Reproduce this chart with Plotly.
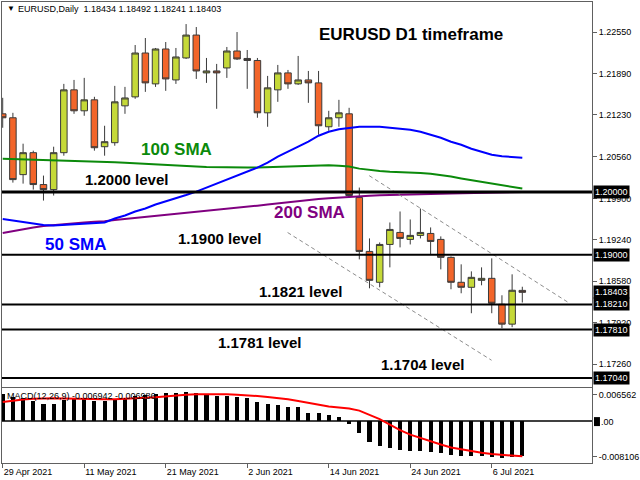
import plotly.graph_objects as go
import pandas as pd

# ---------------- data ----------------
dates = pd.bdate_range("2021-04-29", "2021-07-09")   # 52 daily bars
symbol = "EURUSD,Daily"

opens = [1.21247, 1.21184, 1.20278, 1.20628, 1.20120, 1.20040, 1.20628, 1.21629, 1.21295, 1.21470,
         1.20723, 1.20787, 1.21374, 1.21517, 1.22216, 1.21724, 1.22280, 1.21787, 1.22137, 1.22502,
         1.21899, 1.21930, 1.21978, 1.22248, 1.22129, 1.22097, 1.21263, 1.21629, 1.21899, 1.21724,
         1.21787, 1.21740, 1.21041, 1.21184, 1.21247, 1.19913, 1.19055, 1.18563, 1.19166, 1.19357,
         1.19246, 1.19310, 1.19341, 1.19246, 1.18960, 1.18563, 1.18483, 1.18594, 1.18626, 1.18213,
         1.17896, 1.18434]
highs = [1.21502, 1.21263, 1.20771, 1.20660, 1.20263, 1.20723, 1.21724, 1.21787, 1.21820, 1.21518,
         1.21057, 1.21692, 1.21676, 1.22343, 1.22455, 1.22296, 1.22391, 1.22296, 1.22677, 1.22630,
         1.22137, 1.22042, 1.22312, 1.22550, 1.22264, 1.22137, 1.21851, 1.22026, 1.21946, 1.22169,
         1.21930, 1.21930, 1.21295, 1.21470, 1.21343, 1.20072, 1.19262, 1.19198, 1.19516, 1.19691,
         1.19564, 1.19738, 1.19437, 1.19294, 1.18976, 1.18849, 1.18737, 1.18801, 1.18944, 1.18356,
         1.18690, 1.18492]
lows = [1.21025, 1.20151, 1.20135, 1.20040, 1.19865, 1.19945, 1.20580, 1.21247, 1.21216, 1.20660,
        1.20580, 1.20739, 1.21247, 1.21486, 1.21597, 1.21676, 1.21613, 1.21724, 1.22121, 1.21803,
        1.21740, 1.21327, 1.21819, 1.22105, 1.21645, 1.21184, 1.21041, 1.21438, 1.21645, 1.21708,
        1.21422, 1.20914, 1.20977, 1.21041, 1.19913, 1.18928, 1.18467, 1.18483, 1.18801, 1.19119,
        1.19166, 1.19262, 1.19007, 1.18769, 1.18452, 1.18388, 1.18070, 1.18515, 1.18070, 1.17832,
        1.17848, 1.18241]
closes = [1.21184, 1.20199, 1.20628, 1.20120, 1.20040, 1.20628, 1.21629, 1.21295, 1.21470, 1.20707,
          1.20803, 1.21438, 1.21500, 1.22216, 1.21740, 1.22280, 1.21803, 1.22153, 1.22502, 1.21930,
          1.21930, 1.21899, 1.22248, 1.22121, 1.22097, 1.21263, 1.21661, 1.21899, 1.21724, 1.21787,
          1.21740, 1.21057, 1.21184, 1.21263, 1.19945, 1.19055, 1.18594, 1.19166, 1.19405, 1.19262,
          1.19310, 1.19357, 1.19214, 1.18960, 1.18563, 1.18483, 1.18642, 1.18626, 1.18229, 1.17896,
          1.18436, 1.18403]

sma50 = [1.19571, 1.19548, 1.19524, 1.19500, 1.19476, 1.19468, 1.19476, 1.19484, 1.19492, 1.19500,
         1.19516, 1.19579, 1.19627, 1.19691, 1.19738, 1.19802, 1.19849, 1.19897, 1.19953, 1.20008,
         1.20072, 1.20135, 1.20199, 1.20262, 1.20326, 1.20390, 1.20469, 1.20564, 1.20644, 1.20723,
         1.20803, 1.20898, 1.20961, 1.21001, 1.21025, 1.21041, 1.21041, 1.21041, 1.21025, 1.21009,
         1.20993, 1.20961, 1.20914, 1.20866, 1.20803, 1.20755, 1.20691, 1.20644, 1.20596, 1.20572,
         1.20556, 1.20548]
sma100 = [1.20533, 1.20528, 1.20523, 1.20520, 1.20517, 1.20513, 1.20507, 1.20501, 1.20494, 1.20488,
          1.20482, 1.20475, 1.20466, 1.20456, 1.20450, 1.20444, 1.20434, 1.20425, 1.20415, 1.20406,
          1.20399, 1.20394, 1.20390, 1.20390, 1.20390, 1.20393, 1.20399, 1.20406, 1.20414, 1.20421,
          1.20428, 1.20434, 1.20429, 1.20418, 1.20406, 1.20374, 1.20350, 1.20337, 1.20326, 1.20321,
          1.20315, 1.20306, 1.20291, 1.20271, 1.20247, 1.20218, 1.20191, 1.20167, 1.20143, 1.20115,
          1.20088, 1.20056]
sma200 = [1.19349, 1.19381, 1.19413, 1.19436, 1.19460, 1.19476, 1.19492, 1.19503, 1.19516, 1.19527,
          1.19535, 1.19555, 1.19571, 1.19587, 1.19603, 1.19619, 1.19633, 1.19648, 1.19662, 1.19678,
          1.19694, 1.19710, 1.19725, 1.19743, 1.19762, 1.19783, 1.19802, 1.19821, 1.19840, 1.19856,
          1.19872, 1.19888, 1.19900, 1.19913, 1.19924, 1.19934, 1.19942, 1.19948, 1.19954, 1.19961,
          1.19965, 1.19969, 1.19972, 1.19975, 1.19978, 1.19981, 1.19985, 1.19988, 1.19991, 1.19994,
          1.19997, 1.20000]

macd_main = [0.00537, 0.00484, 0.00464, 0.00404, 0.00339, 0.00339, 0.00418, 0.00452, 0.00452, 0.00404,
             0.00398, 0.00418, 0.00452, 0.00503, 0.00517, 0.00537, 0.00551, 0.00563, 0.00583, 0.00563,
             0.00517, 0.00498, 0.00498, 0.00484, 0.00464, 0.00373, 0.00333, 0.00319, 0.00285, 0.00274,
             0.00167, 0.00167, 0.00121, 0.00075, -0.00063, -0.00242, -0.00408, -0.00494, -0.00527, -0.00573,
             -0.00593, -0.00593, -0.00607, -0.00626, -0.00672, -0.00692, -0.00692, -0.00692, -0.00706, -0.00737,
             -0.00706, -0.006942]
macd_signal = [0.00379, 0.00408, 0.00432, 0.00446, 0.00454, 0.00458, 0.00452, 0.00444, 0.00438, 0.00434,
               0.00434, 0.00438, 0.00444, 0.00452, 0.00464, 0.00478, 0.00498, 0.00513, 0.00525, 0.00533,
               0.00537, 0.00537, 0.00533, 0.00525, 0.00517, 0.00501, 0.00482, 0.00462, 0.00434, 0.00402,
               0.00363, 0.00319, 0.00293, 0.00274, 0.00250, 0.00210, 0.00131, 0.00042, -0.00067, -0.00176,
               -0.00266, -0.00335, -0.00404, -0.00464, -0.00523, -0.00563, -0.00599, -0.00628, -0.00652, -0.00672,
               -0.00692, -0.006986]
macd_scale_labels = [0.006562, -0.008106]

levels = [1.2000, 1.1900, 1.1821, 1.1781, 1.1704]
price_ticks = [1.22550, 1.21890, 1.21230, 1.20560, 1.19900, 1.19240, 1.18580, 1.17920, 1.17260]
date_tick_idx = [0, 8, 16, 24, 32, 40, 48]

channel_upper_x = [35.97, 55.5]
channel_upper_y = [1.20262, 1.18243]
channel_lower_x = [27.96, 47.98]
channel_lower_y = [1.19356, 1.17321]

# ---------------- geometry ----------------
W, H = 640, 480
L, R, T, B = 1, 46, 1, 17
PW, PH = W - L - R, H - T - B
PB = H - B


def pxx(x):
    return (x - L) / PW


def pxy(y):
    return (PB - y) / PH


FONT = "Liberation Sans, Arial, sans-serif"
idx = list(range(len(dates)))

fig = go.Figure()

# moving averages
fig.add_trace(go.Scatter(x=idx, y=sma200, mode="lines", line=dict(color="#800080", width=2),
                         xaxis="x", yaxis="y", hoverinfo="skip"))
fig.add_trace(go.Scatter(x=idx, y=sma100, mode="lines", line=dict(color="#0B8A0B", width=2),
                         xaxis="x", yaxis="y", hoverinfo="skip"))
fig.add_trace(go.Scatter(x=idx, y=sma50, mode="lines", line=dict(color="#0000FF", width=2),
                         xaxis="x", yaxis="y", hoverinfo="skip"))

# candles
fig.add_trace(go.Candlestick(
    x=idx, open=opens, high=highs, low=lows, close=closes,
    increasing=dict(fillcolor="#C5D938", line=dict(color="#3a3a3a", width=1)),
    decreasing=dict(fillcolor="#F2652A", line=dict(color="#3a3a3a", width=1)),
    whiskerwidth=0, xaxis="x", yaxis="y", hoverinfo="skip"))

# channel lines
for cx, cy in [(channel_upper_x, channel_upper_y), (channel_lower_x, channel_lower_y)]:
    fig.add_trace(go.Scatter(x=cx, y=cy, mode="lines",
                             line=dict(color="#8c8c8c", width=1, dash="4px,3px"),
                             xaxis="x", yaxis="y", hoverinfo="skip"))

# MACD
fig.add_trace(go.Bar(x=idx, y=macd_main, width=0.4, marker=dict(color="#000000", line=dict(width=0)),
                     xaxis="x2", yaxis="y2", hoverinfo="skip"))
fig.add_trace(go.Scatter(x=idx, y=macd_signal, mode="lines", line=dict(color="#FF0000", width=2),
                         xaxis="x2", yaxis="y2", hoverinfo="skip"))

# horizontal levels
shapes = []
for i, lv in enumerate(levels):
    shapes.append(dict(type="line", xref="paper", x0=0, x1=1, yref="y", y0=lv, y1=lv,
                       line=dict(color="#000000", width=3 if i == 0 else 2), layer="above"))
# small black box on MACD zero label
shapes.append(dict(type="rect", xref="paper", yref="paper",
                   x0=pxx(596), x1=pxx(602), y0=pxy(426), y1=pxy(417),
                   fillcolor="#000000", line=dict(width=0), layer="above"))

xr = [-0.07, 57.84]
ymain = [1.16900, 1.230286]
ymacd = [-0.008305, macd_scale_labels[0]]

annotations = []


def ann(text, x, y, size, color, bold=True, xanchor="left", bg=None, pad=1):
    annotations.append(dict(
        text=("<b>%s</b>" % text) if bold else text, xref="paper", yref="paper",
        x=pxx(x), y=pxy(y), xanchor=xanchor, yanchor="middle", showarrow=False,
        font=dict(family=FONT, size=size, color=color),
        bgcolor=bg, borderpad=pad))


# header
ann("\u25BC", 4, 8, 8, "#000000", bold=False)
ann("%s  %.5f %.5f %.5f %.5f" % (symbol, opens[-1], highs[-1], lows[-1], closes[-1]),
    15, 8.5, 9, "#000000", bold=False)
ann("MACD(12,26,9) %.6f %.6f" % (macd_main[-1], macd_signal[-1]), 4, 396, 9, "#000000", bold=False)

# chart labels
ann("EURUSD D1 timeframe", 318, 34, 17, "#000000")
ann("100 SMA", 139, 149, 17, "#0B8A0B")
ann("200 SMA", 272, 212, 17, "#800080")
ann("50 SMA", 42, 244, 17, "#0000FF")
ann("%.4f level" % levels[0], 82, 179, 15, "#000000")
ann("%.4f level" % levels[1], 176, 238, 15, "#000000")
ann("%.4f level" % levels[2], 257, 291, 15, "#000000")
ann("%.4f level" % levels[3], 216, 342, 15, "#000000")
ann("%.4f level" % levels[4], 380, 364, 15, "#000000")

# right axis black boxes
for v in levels + [closes[-1]]:
    annotations.append(dict(
        text="%.5f" % v, xref="paper", yref="y", x=pxx(595), y=v, xanchor="left", yanchor="middle",
        showarrow=False, font=dict(family=FONT, size=9, color="#FFFFFF"), bgcolor="#000000", borderpad=1))
# MACD zero label
ann(".00", 602, 421.5, 9, "#000000", bold=False, pad=0)

date_text = ["%d %s" % (dates[i].day, dates[i].strftime("%b %Y")) for i in date_tick_idx]

axis_common = dict(showgrid=False, zeroline=False, showline=True, mirror=True,
                   linecolor="#606060", linewidth=1)

fig.update_layout(
    width=W, height=H, margin=dict(l=L, r=R, t=T, b=B),
    paper_bgcolor="#FFFFFF", plot_bgcolor="#FFFFFF", showlegend=False,
    boxgap=0.2, boxgroupgap=0.2, bargap=0,
    font=dict(family=FONT, size=9, color="#000000"),
    xaxis=dict(domain=[0, 1], range=xr, anchor="y", showticklabels=False, ticks="",
               rangeslider=dict(visible=False), **axis_common),
    yaxis=dict(domain=[pxy(386.5), 1], range=ymain, anchor="x", side="right",
               tickvals=price_ticks, ticktext=["%.5f" % v for v in price_ticks],
               ticks="outside", ticklen=4, tickcolor="#606060",
               tickfont=dict(family=FONT, size=9, color="#000000"), **axis_common),
    xaxis2=dict(domain=[0, 1], range=xr, anchor="y2", tickvals=date_tick_idx, ticktext=date_text,
                ticks="outside", ticklen=4, tickcolor="#606060", ticklabelposition="outside right",
                tickfont=dict(family=FONT, size=9, color="#000000"),
                rangeslider=dict(visible=False), **axis_common),
    yaxis2=dict(domain=[0, pxy(388)], range=ymacd, anchor="x2", side="right",
                tickvals=[0.00531, -0.00706], ticktext=["%.6f" % v for v in macd_scale_labels],
                ticks="outside", ticklen=4, tickcolor="#606060",
                tickfont=dict(family=FONT, size=9, color="#000000"),
                showgrid=False, showline=True, mirror=True, linecolor="#606060", linewidth=1,
                zeroline=True, zerolinecolor="#404040", zerolinewidth=1.5),
    shapes=shapes, annotations=annotations,
)

fig.write_html("out.html", config={"displayModeBar": False},
               post_script="document.body.style.margin='0';document.body.style.overflow='hidden';")
